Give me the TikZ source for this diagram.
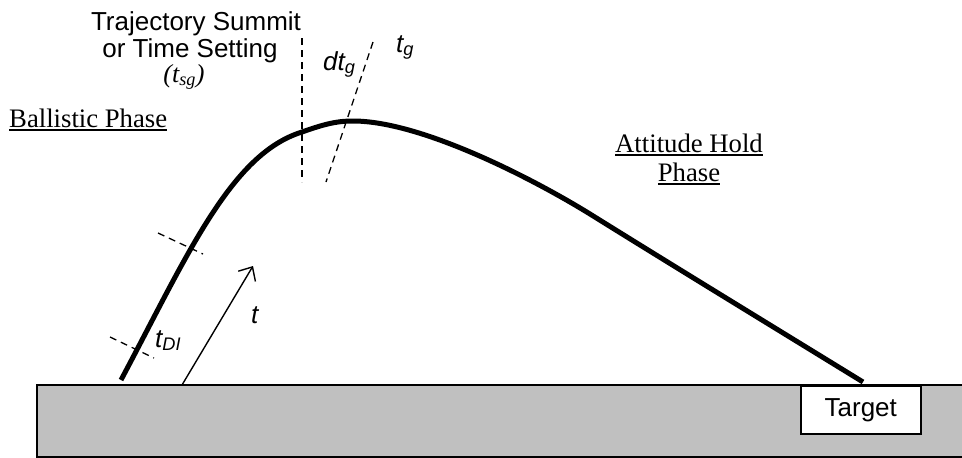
\documentclass[tikz,border=0pt]{standalone}
\usepackage{fontspec}
\setmainfont{Liberation Serif}
\newfontfamily\arial{Liberation Sans}
\usetikzlibrary{arrows.meta}
\definecolor{groundgray}{HTML}{C0C0C0}
\newlength\ulwidth
\newcommand\thickul[1]{\settowidth\ulwidth{#1}\rlap{\rule[-3.5pt]{\ulwidth}{1.8pt}}#1}
\tikzset{
  sanslbl/.style={font=\arial\fontsize{26}{29}\selectfont, inner sep=0pt},
  isanslbl/.style={font=\arial\itshape\fontsize{26}{29}\selectfont, inner sep=0pt},
  seriflbl/.style={font=\fontsize{26.7}{30}\selectfont, inner sep=0pt},
  dashmark/.style={line width=1.3pt, dash pattern=on 7pt off 5pt},
  traj/.style={line width=5pt},
}
\begin{document}
\begin{tikzpicture}[x=1pt,y=-1pt]
\useasboundingbox (0,0) rectangle (962,458);
% ground
\path[fill=groundgray] (37,385) rectangle (975,457);
\draw[line width=1.5pt] (975,385) -- (37,385) -- (37,457) -- (975,457);
% target
\node[draw, fill=white, line width=1.5pt, minimum width=120pt, minimum height=48pt, sanslbl, anchor=north west] (target) at (800,385) {Target};
% trajectory
\coordinate (launch) at (121,380);
\coordinate (mid) at (302,132);
\coordinate (peak) at (353,121);
\coordinate (down) at (590,214);
\coordinate (impact) at (863,382);
\draw[traj] (launch) .. controls (188,254) and (231,154) .. (mid)
  .. controls (322,125) and (335,121) .. (peak)
  .. controls (420,121) and (530,177) .. (down)
  .. controls (680,270) and (780,331) .. (impact);
% dashed markers
\coordinate (v1) at (302,38);
\coordinate (v2) at (302,182);
\draw[dashmark, line width=1.6pt] (v1) -- (v2);
\coordinate (s1) at (373,42);
\coordinate (s2) at (326,182);
\draw[dashmark] (s1) -- (s2);
\coordinate (u1) at (158,233);
\coordinate (u2) at (203,254);
\draw[dashmark] (u1) -- (u2);
\coordinate (l1) at (110,337);
\coordinate (l2) at (154,358);
\draw[dashmark] (l1) -- (l2);
% arrow t
\coordinate (a1) at (182,385);
\coordinate (a2) at (253,266);
\draw[line width=1.4pt, -{Straight Barb[length=11pt, width=20pt, line width=1.4pt]}] (a1) -- (a2);
% labels
\node[sanslbl, anchor=base] (ts1) at (196,30) {Trajectory Summit};
\node[sanslbl, anchor=base] (ts2) at (190,57) {or Time Setting};
\node[seriflbl, font=\itshape\fontsize{26}{29}\selectfont, anchor=base] (ts3) at (184,82) {(t\textsubscript{sg})};
\node[seriflbl, anchor=base west] (ballistic) at (9,127) {\thickul{Ballistic Phase}};
\node[seriflbl, anchor=base] (attitude) at (689,152) {\thickul{Attitude Hold}};
\node[seriflbl, anchor=base] (phase) at (689,181) {\thickul{Phase}};
\node[isanslbl, anchor=base west] (dtg) at (323,70) {dt\textsubscript{g}};
\node[isanslbl, anchor=base west] (tg) at (396,52) {t\textsubscript{g}};
\node[isanslbl, anchor=base west] (tdi) at (155,347) {t\textsubscript{DI}};
\node[isanslbl, anchor=base west] (tt) at (251,323) {t};
\end{tikzpicture}
\end{document}
